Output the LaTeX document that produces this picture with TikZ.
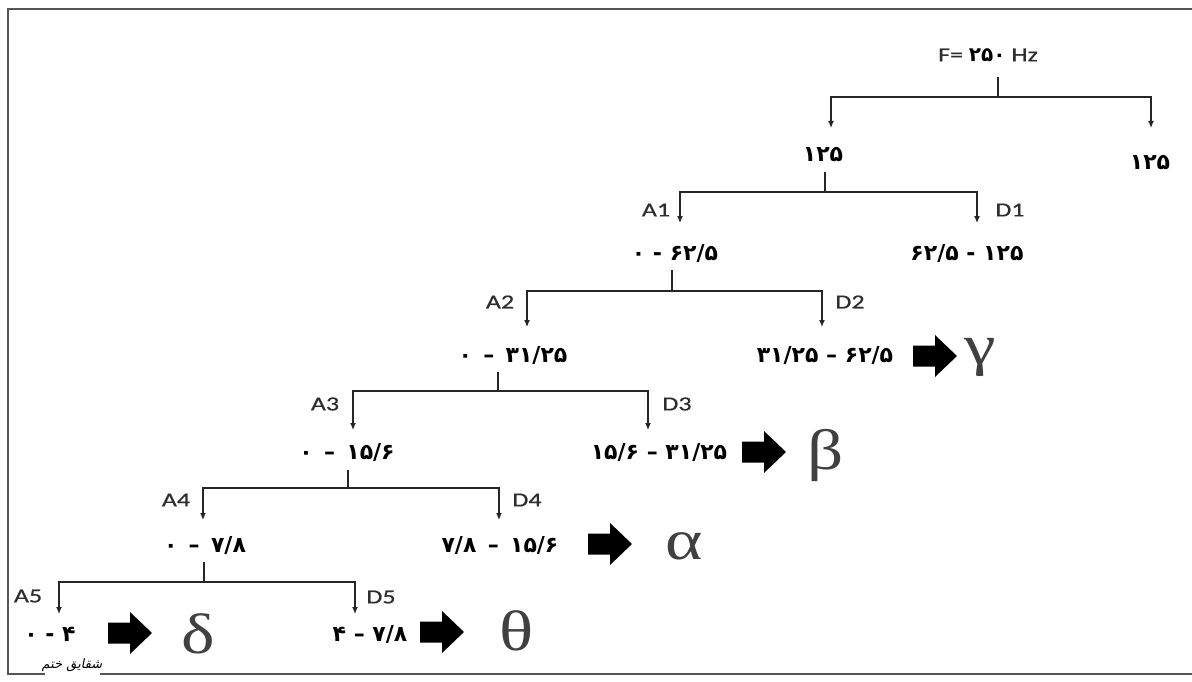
\documentclass[tikz,border=0pt]{standalone}
\usepackage{fontspec}
\setmainfont{Liberation Serif}
\newfontfamily\latf[FakeStretch=1.3,FakeBold=0.6]{Carlito}
\newfontfamily\faf{DejaVu Sans}
\newfontfamily\greekf[FakeStretch=1.25]{Liberation Serif}
\newfontfamily\sigf[Script=Arabic,FakeSlant=0.2]{DejaVu Sans}
\TeXXeTstate=1
\usetikzlibrary{arrows.meta}
\definecolor{lblgray}{HTML}{2E2E2E}
\definecolor{framegray}{HTML}{555555}
\begin{document}
\begin{tikzpicture}[x=1pt,y=-1pt,
  lbl/.style={font=\latf\fontsize{20}{20}\selectfont, text=lblgray, inner sep=0},
  rng/.style={font=\faf\bfseries\fontsize{22}{22}\selectfont, inner sep=0},
  grk/.style={font=\greekf\fontsize{57}{57}\selectfont, text=black!75, inner sep=0},
  tree/.style={line width=1.2pt, draw=black!85},
  split/.style={tree, -{Latex[length=7pt,width=6pt]}},
  barrow/.pic={\fill[black] (-22,-10.5) -- (0,-10.5) -- (0,-21) -- (22,0) -- (0,21) -- (0,10.5) -- (-22,10.5) -- cycle;}
]
\useasboundingbox (0,0) rectangle (1192,682);
% frame
\draw[framegray, line width=1.5pt] (1192,9) -- (8,9) -- (8,674) -- (45,674);
\draw[framegray, line width=1.5pt] (100,674) -- (1192,674);
\node[font=\sigf\fontsize{13}{13}\selectfont, inner sep=0] (sig) at (72,665) {\beginR شقایق ختم\endR};

% texts
\node[lbl] (f) at (988,55) {F= {\faf\bfseries\fontsize{20}{20}\selectfont\color{black}۲۵۰} Hz};
\node[rng] (h1) at (823,155) {۱۲۵};
\node[rng] (h2) at (1150,163) {۱۲۵};
\node[lbl] (la1) at (656,210) {A1};
\node[lbl] (ld1) at (1010,210) {D1};
\node[rng] (a1) at (675,254) {۰ - ۶۲/۵};
\node[rng] (d1) at (967,254) {۶۲/۵ - ۱۲۵};
\node[lbl] (la2) at (500,302) {A2};
\node[lbl] (ld2) at (850,302) {D2};
\node[rng] (a2) at (513,355) {۰ \,–\, ۳۱/۲۵};
\node[rng] (d2) at (825,355) {۳۱/۲۵ – ۶۲/۵};
\node[lbl] (la3) at (325,404) {A3};
\node[lbl] (ld3) at (677,404) {D3};
\node[rng] (a3) at (347,452) {۰ \,–\, ۱۵/۶};
\node[rng] (d3) at (659,452) {۱۵/۶ – ۳۱/۲۵};
\node[lbl] (la4) at (176,500) {A4};
\node[lbl] (ld4) at (527,500) {D4};
\node[rng] (a4) at (205,545) {۰ \,–\, ۷/۸};
\node[rng] (d4) at (500,545) {۷/۸ \,–\, ۱۵/۶};
\node[lbl] (la5) at (28,596) {A5};
\node[lbl] (ld5) at (381,597) {D5};
\node[rng] (a5) at (50,634) {۰ - ۴};
\node[rng] (d5) at (370,634) {۴ – ۷/۸};

% block arrows and bands
\pic at (935,356) {barrow};
\node[grk] (gam) at (980,357) {γ};
\pic at (764,452) {barrow};
\node[grk] (bet) at (826,455) {β};
\pic at (610,544) {barrow};
\node[grk] (alp) at (684,546) {α};
\pic at (130,633) {barrow};
\node[grk] (del) at (198,634) {δ};
\pic at (442,632) {barrow};
\node[grk] (the) at (517,631) {θ};

% tree connectors
\coordinate (s0) at (998,77);  \coordinate (j0) at (998,97);
\coordinate (t0a) at (831,128); \coordinate (t0b) at (1151,128);
\coordinate (s1) at (825,172); \coordinate (j1) at (825,192);
\coordinate (t1a) at (680,223); \coordinate (t1d) at (977,223);
\coordinate (s2) at (672,270); \coordinate (j2) at (672,291);
\coordinate (t2a) at (527,327); \coordinate (t2d) at (822,327);
\coordinate (s3) at (498,372); \coordinate (j3) at (498,391);
\coordinate (t3a) at (353,430); \coordinate (t3d) at (648,430);
\coordinate (s4) at (348,470); \coordinate (j4) at (348,488);
\coordinate (t4a) at (203,520); \coordinate (t4d) at (499,520);
\coordinate (s5) at (204,562); \coordinate (j5) at (204,582);
\coordinate (t5a) at (59,614); \coordinate (t5d) at (355,614);
\foreach \i/\a/\d in {0/t0a/t0b,1/t1a/t1d,2/t2a/t2d,3/t3a/t3d,4/t4a/t4d,5/t5a/t5d}{
  \draw[tree] (s\i) -- (j\i);
  \draw[split] (j\i) -| (\a);
  \draw[split] (j\i) -| (\d);
}
\end{tikzpicture}
\end{document}
